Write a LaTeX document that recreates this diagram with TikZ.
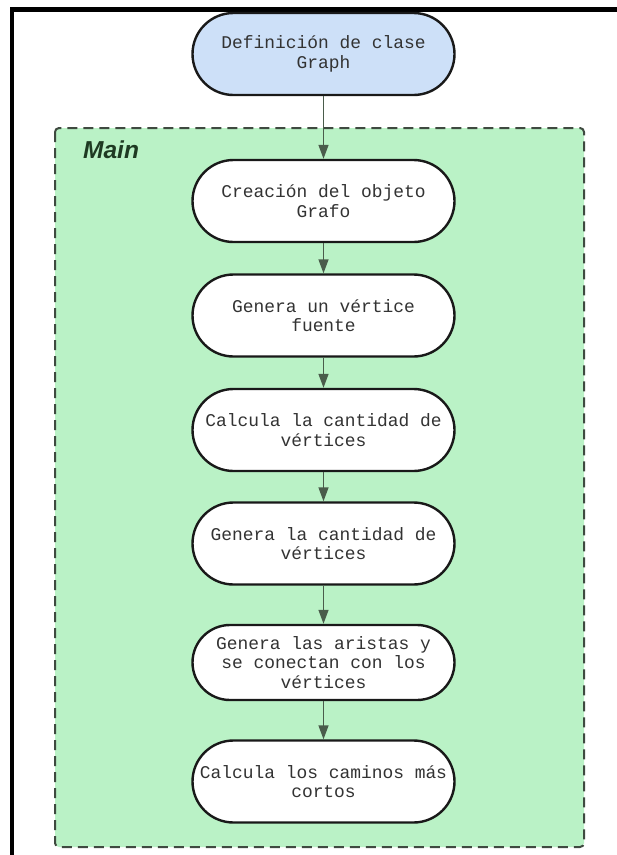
\documentclass[tikz,border=0pt]{standalone}
\usepackage{fontspec}
\setmainfont{Liberation Sans}
\newfontfamily\monof{Liberation Mono}
\usetikzlibrary{arrows.meta}
\definecolor{bluefill}{HTML}{CDE0F8}
\definecolor{greenfill}{HTML}{BAF2C6}
\definecolor{greenedge}{HTML}{3F4A40}
\definecolor{arrowcol}{HTML}{4A5C4B}
\definecolor{textcol}{HTML}{333333}
\definecolor{maincol}{HTML}{1E3A22}
\tikzset{
  procbox/.style={draw=black!90, line width=2.4pt, fill=white, minimum width=262pt,
    minimum height=82pt, rounded corners=41pt, align=center, inner sep=0pt,
    text=textcol, font=\monof\fontsize{17.9}{19.5}\selectfont},
  arr/.style={draw=arrowcol, line width=1.4pt, -{Triangle[length=14pt,width=10pt]}},
  container/.style={draw=greenedge, fill=greenfill, line width=2pt,
    dash pattern=on 10pt off 6pt, rounded corners=4pt}
}
\begin{document}
\begin{tikzpicture}[x=1pt,y=-1pt]
\useasboundingbox (0,0) rectangle (617,855);
\fill[white] (0,0) rectangle (617,855);
\draw[line width=4.5pt] (12,855) -- (12,9.5) -- (617,9.5);
\draw[container] (55,128) rectangle (584,847);
\node[anchor=base west, font=\bfseries\itshape\fontsize{24.5}{28}\selectfont, text=maincol, inner sep=0pt] (mainlbl) at (83,158) {Main};
\node[procbox, fill=bluefill] (n1) at (323.5,54) {Definición de clase\\Graph};
\node[procbox] (n2) at (323.5,201) {Creación del objeto\\Grafo};
\node[procbox] (n3) at (323.5,315.5) {Genera un vértice\\fuente};
\node[procbox] (n4) at (323.5,430) {Calcula la cantidad de\\vértices};
\node[procbox] (n5) at (323.5,543.5) {Genera la cantidad de\\vértices};
\node[procbox, minimum height=75pt, rounded corners=37.5pt] (n6) at (323.5,662.5) {Genera las aristas y\\se conectan con los\\vértices};
\node[procbox] (n7) at (323.5,781.5) {Calcula los caminos más\\cortos};
\draw[arr] (n1) -- (n2);
\draw[arr] (n2) -- (n3);
\draw[arr] (n3) -- (n4);
\draw[arr] (n4) -- (n5);
\draw[arr] (n5) -- (n6);
\draw[arr] (n6) -- (n7);
\end{tikzpicture}
\end{document}
